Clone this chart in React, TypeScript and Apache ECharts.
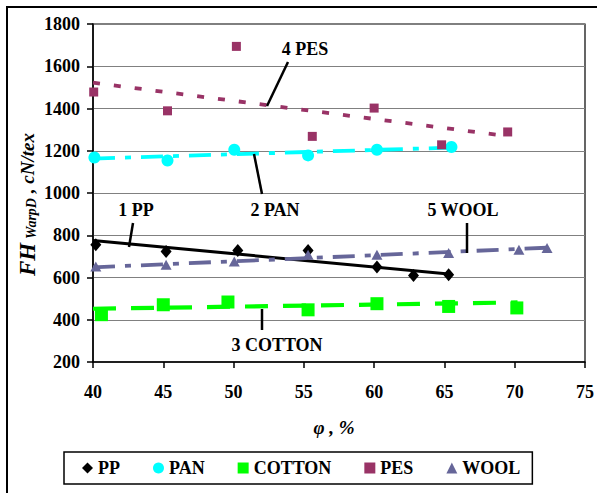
import React, { useEffect, useRef } from "react";
import * as echarts from "echarts";

const ppX = [40.2, 45.2, 50.3, 55.3, 60.2, 62.8, 65.3];
const ppY = [755, 723, 728, 728, 650, 610, 613];
const panX = [40.1, 45.3, 50.05, 55.3, 60.2, 65.5];
const panY = [1168, 1154, 1205, 1178, 1205, 1218];
const cottonX = [40.6, 45.0, 49.6, 55.3, 60.2, 65.3, 70.15];
const cottonY = [424, 471, 484, 447, 476, 463, 456];
const pesX = [40.05, 45.3, 50.2, 55.6, 60.0, 64.8, 69.5];
const pesY = [1478, 1389, 1694, 1268, 1402, 1228, 1289];
const woolX = [40.2, 45.2, 50.05, 55.3, 60.2, 65.3, 70.3, 72.3];
const woolY = [652, 660, 676, 708, 708, 716, 731, 740];

// trend line end points [x, y]
const ppTrend = [[40, 775], [65.3, 617]];
const panTrend = [[40, 1163], [65.5, 1215]];
const cottonTrend = [[40, 452], [70.2, 482]];
const pesTrend = [[40, 1522], [69.4, 1270]];
const woolTrend = [[40, 648], [72.3, 741]];

const seriesNames = ["PP", "PAN", "COTTON", "PES", "WOOL"];
const seriesIcons = ["diamond", "circle", "rect", "rect", "triangle"];
const colors = ["#000000", "#00FFFF", "#00FF00", "#993366", "#666699"];

const FONT = "'Liberation Serif', 'Times New Roman', serif";

const zip = (xs: number[], ys: number[]) => xs.map((x, i) => [x, ys[i]]);

export default function App() {
  const ref = useRef<HTMLDivElement>(null);
  useEffect(() => {
    if (!ref.current) return;
    const chart = echarts.init(ref.current, null, { renderer: "svg" });
    const txt = (text: string, x: number, y: number, extra: any = {}) => ({
      type: "text",
      x,
      y,
      z: 100,
      style: {
        text,
        fontFamily: FONT,
        fontWeight: "bold",
        fontSize: 18,
        fill: "#000",
        align: "center",
        verticalAlign: "middle",
        ...extra,
      },
    });
    const seg = (x1: number, y1: number, x2: number, y2: number) => ({
      type: "line",
      z: 100,
      shape: { x1, y1, x2, y2 },
      style: { stroke: "#000", lineWidth: 2.5 },
    });
    const scatter = (i: number, data: number[][], size: any) => ({
      name: seriesNames[i],
      type: "scatter",
      symbol: seriesIcons[i],
      symbolSize: size,
      itemStyle: { color: colors[i], opacity: 1 },
      data,
      z: 5,
      silent: true,
    });
    const trend = (i: number, data: number[][], width: number, type: any) => ({
      name: seriesNames[i] + " trend",
      type: "line",
      data,
      symbol: "none",
      silent: true,
      z: 3,
      lineStyle: { color: colors[i], width, type, cap: "butt" },
    });
    chart.setOption({
      animation: false,
      backgroundColor: "#fff",
      grid: {
        left: 93,
        right: 10,
        top: 24,
        bottom: 131,
        show: true,
        borderColor: "#000",
        borderWidth: 1.2,
      },
      xAxis: {
        type: "value",
        min: 40,
        max: 75,
        interval: 5,
        axisLine: { show: true, lineStyle: { color: "#000", width: 1.5 } },
        axisTick: { show: true, inside: false, length: 6, lineStyle: { color: "#000", width: 1.5 } },
        splitLine: { show: false },
        axisLabel: {
          margin: 21,
          color: "#000",
          fontFamily: FONT,
          fontWeight: "bold",
          fontSize: 18,
        },
      },
      yAxis: {
        type: "value",
        min: 200,
        max: 1800,
        interval: 200,
        axisLine: { show: true, lineStyle: { color: "#000", width: 1.5 } },
        axisTick: { show: true, inside: false, length: 6, lineStyle: { color: "#000", width: 1.5 } },
        splitLine: { show: true, lineStyle: { color: "#808080", width: 1.2 } },
        axisLabel: {
          margin: 13,
          color: "#000",
          fontFamily: FONT,
          fontWeight: "bold",
          fontSize: 18,
          formatter: (v: number) => String(v),
        },
      },
      legend: {
        data: seriesNames.map((n, i) => ({ name: n, icon: seriesIcons[i] })),
        left: 64,
        top: 452,
        orient: "horizontal",
        itemWidth: 11,
        itemHeight: 11,
        itemGap: 33,
        padding: [7, 12, 7, 18],
        borderColor: "#000",
        borderWidth: 1.5,
        backgroundColor: "#fff",
        textStyle: {
          color: "#000",
          fontFamily: FONT,
          fontWeight: "bold",
          fontSize: 18,
        },
        selectedMode: false,
      },
      series: [
        trend(0, ppTrend, 3, "solid"),
        trend(1, panTrend, 3.8, [22, 10, 6, 10]),
        trend(2, cottonTrend, 4.2, [23, 15]),
        trend(3, pesTrend, 3.8, [7, 14]),
        trend(4, woolTrend, 3.8, [22, 10, 6, 10]),
        scatter(0, zip(ppX, ppY), [11, 13]),
        scatter(1, zip(panX, panY), 12),
        scatter(2, zip(cottonX, cottonY), 13),
        scatter(3, zip(pesX, pesY), 9),
        scatter(4, zip(woolX, woolY), [11, 10]),
      ],
      graphic: [
        {
          type: "rect",
          shape: { x: 7, y: 7, width: 620, height: 520 },
          style: { fill: "none", stroke: "#000", lineWidth: 2 },
          z: 100,
        },
        txt("4 PES", 305, 49),
        seg(288, 62, 267, 106),
        txt("2 PAN", 275, 210),
        seg(254, 154, 262, 194),
        txt("1 PP", 136, 210),
        seg(133, 223, 129, 247),
        txt("5 WOOL", 463, 210),
        seg(467, 223, 467, 253),
        txt("3 COTTON", 277, 345),
        seg(262, 309, 262, 330),
        txt("φ , %", 334, 427, { fontStyle: "italic", fontSize: 19 }),
        {
          type: "group",
          x: 27,
          y: 276,
          rotation: Math.PI / 2,
          z: 100,
          children: [
            txt("FH", 0, 0, { align: "left", fontStyle: "italic", fontSize: 23 }),
            txt("WarpD", 37, 4, { align: "left", fontStyle: "italic", fontSize: 14 }),
            txt(" , cN/tex", 78, 0, { align: "left", fontStyle: "italic", fontSize: 19 }),
          ],
        },
      ],
    });
    return () => chart.dispose();
  }, []);
  return (
    <div
      ref={ref}
      style={{ position: "absolute", left: 0, top: 0, width: 597, height: 493, background: "#fff" }}
    />
  );
}
